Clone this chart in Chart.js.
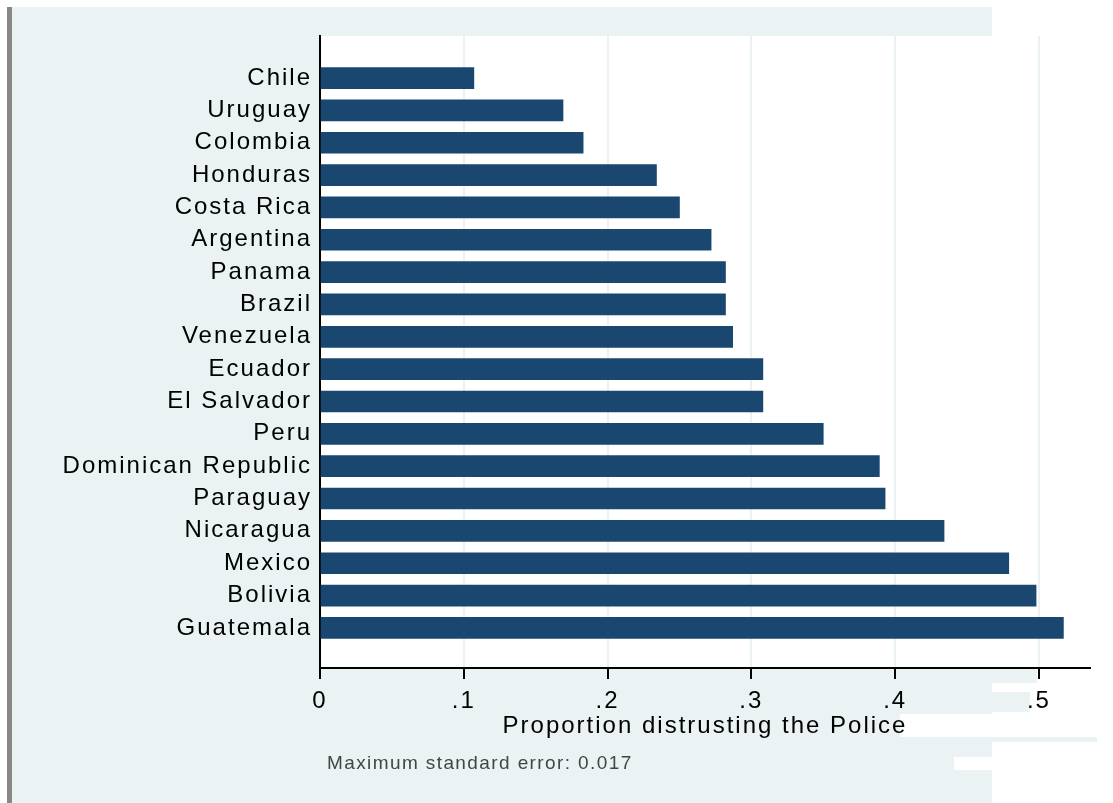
<!DOCTYPE html>
<html>
<head>
<meta charset="utf-8">
<script src="https://cdn.jsdelivr.net/npm/chart.js@4.4.1/dist/chart.umd.min.js"></script>
<style>
  html, body { margin: 0; padding: 0; background: #fff; }
  canvas { display: block; }
</style>
</head>
<body>
<canvas id="myChart" width="1113" height="803"></canvas>
<script>
// data
const countries = ['Chile', 'Uruguay', 'Colombia', 'Honduras', 'Costa Rica', 'Argentina', 'Panama', 'Brazil',
  'Venezuela', 'Ecuador', 'El Salvador', 'Peru', 'Dominican Republic', 'Paraguay', 'Nicaragua', 'Mexico',
  'Bolivia', 'Guatemala'];
const distrust = [0.107, 0.169, 0.183, 0.234, 0.250, 0.272, 0.282, 0.282,
  0.287, 0.308, 0.308, 0.350, 0.389, 0.393, 0.434, 0.479,
  0.498, 0.517];
const xTicks = [0, 0.1, 0.2, 0.3, 0.4, 0.5];
const xTickLabels = ['0', '.1', '.2', '.3', '.4', '.5'];
const xTitle = 'Proportion distrusting the Police';
const note = 'Maximum standard error: 0.017';

const FONT = "'Liberation Sans', Arial, Helvetica, sans-serif";
const bgGray = '#EAF2F3';
const navy = '#1A476F';
const spacing = '2px';

// stata like background, plot region, note
const background = {
  id: 'background',
  beforeUpdate(chart) { chart.ctx.letterSpacing = spacing; },
  beforeDraw(chart) {
    const c = chart.ctx;
    const a = chart.chartArea;
    c.save();
    c.fillStyle = '#fff';
    c.fillRect(0, 0, chart.width, chart.height);
    c.fillStyle = bgGray;
    c.fillRect(7, 7, 985, 796);
    c.fillStyle = '#888';
    c.fillRect(7, 7, 5, 796);
    // plot region
    c.fillStyle = '#fff';
    c.fillRect(a.left, a.top, chart.width - a.left, a.bottom - a.top);
    // odd patches at the bottom right
    c.fillStyle = bgGray;
    c.fillRect(992, a.bottom, 45, 15);
    c.fillRect(992, 692, 38, 20);
    c.fillStyle = '#fff';
    c.fillRect(900, 714, 213, 23);
    c.fillRect(954, 757, 38, 13);
    c.fillStyle = bgGray;
    c.fillRect(880, 737, 217, 5);
    c.restore();
    c.letterSpacing = spacing;
  },
  afterDraw(chart) {
    const c = chart.ctx;
    c.save();
    c.letterSpacing = '1.4px';
    c.font = '19px ' + FONT;
    c.fillStyle = '#444';
    c.textAlign = 'left';
    c.textBaseline = 'middle';
    c.fillText(note, 327, 764);
    c.restore();
  }
};

const ctx = document.getElementById('myChart');
const myChart = new Chart(ctx, {
  type: 'bar',
  data: {
    datasets: [{
      data: distrust.map((v, i) => ({ x: v, y: i })),
      backgroundColor: navy,
      borderWidth: 0,
      barThickness: 21
    }]
  },
  options: {
    indexAxis: 'y',
    responsive: false,
    animation: false,
    devicePixelRatio: 1,
    layout: { padding: { top: 36, right: 23, left: 0, bottom: 0 } },
    plugins: {
      legend: { display: false },
      tooltip: { enabled: false }
    },
    scales: {
      y: {
        type: 'linear',
        reverse: true,
        offset: false,
        bounds: 'data',
        min: -1.3,
        max: 18.24,
        afterBuildTicks: s => { s.ticks = countries.map((c, i) => ({ value: i })); },
        afterFit: s => { s.width = 320; },
        grid: { drawOnChartArea: false, drawTicks: false, offset: false },
        border: { display: true, color: '#000', width: 2 },
        ticks: {
          autoSkip: false,
          padding: 8,
          color: '#000',
          font: { family: FONT, size: 24 },
          callback: v => countries[v] || ''
        }
      },
      x: {
        type: 'linear',
        min: 0,
        max: 0.5355,
        afterBuildTicks: s => { s.ticks = xTicks.map(v => ({ value: v })); },
        afterFit: s => { s.height = 135; },
        grid: {
          color: ctx => ctx.tick && ctx.tick.value === 0 ? 'rgba(0,0,0,0)' : bgGray,
          lineWidth: 2,
          tickColor: '#000',
          tickWidth: 2,
          tickLength: 11
        },
        border: { display: true, color: '#000', width: 2 },
        ticks: {
          autoSkip: false,
          maxRotation: 0,
          padding: 8,
          color: '#000',
          font: { family: FONT, size: 24 },
          callback: (v, i) => xTickLabels[i]
        },
        title: {
          display: true,
          text: xTitle,
          color: '#000',
          font: { family: FONT, size: 24 },
          padding: { top: 0, bottom: 62 }
        }
      }
    }
  },
  plugins: [background]
});
</script>
</body>
</html>
